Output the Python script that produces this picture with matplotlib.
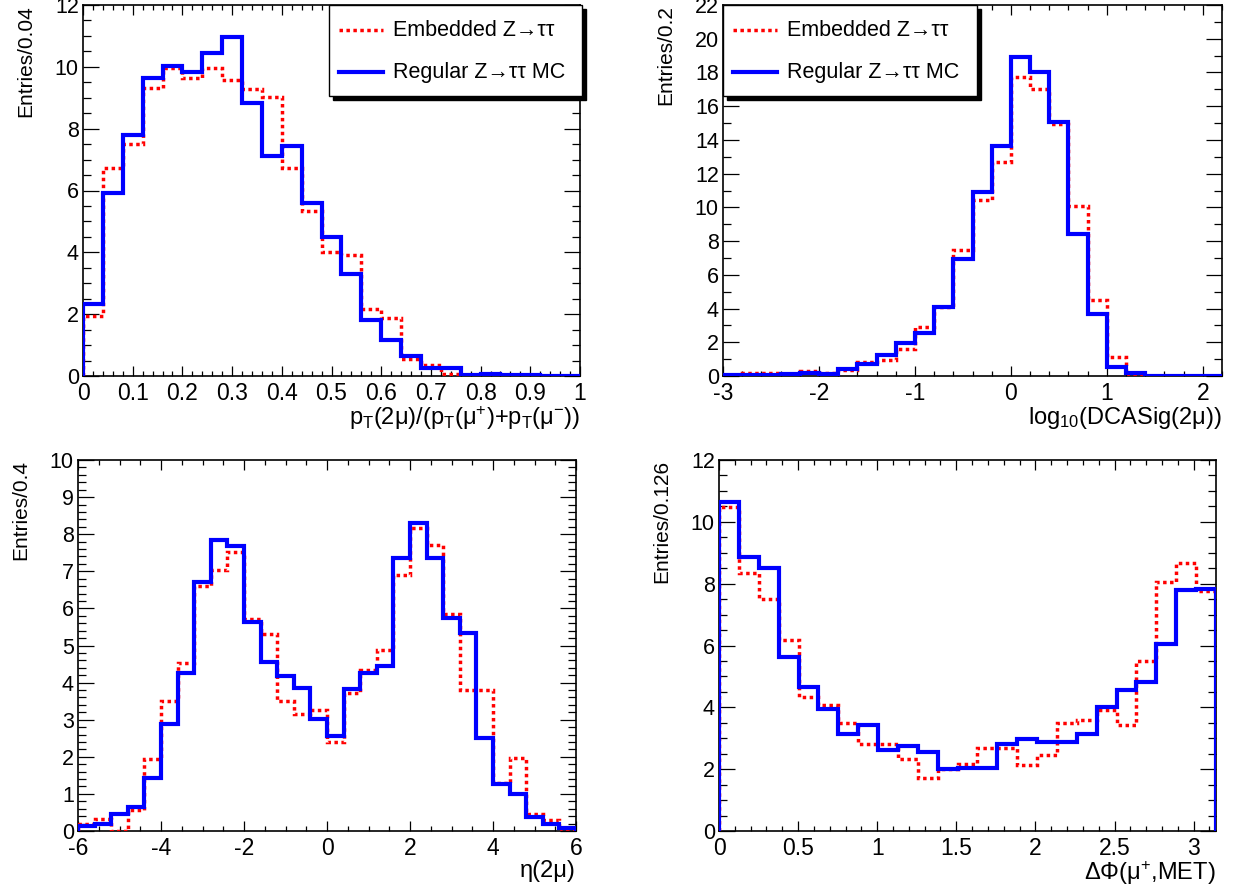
import numpy as np
import matplotlib
matplotlib.use("Agg")
import matplotlib.pyplot as plt
from matplotlib.patches import Rectangle
from matplotlib.ticker import MultipleLocator

plt.rcParams['font.family'] = ['Liberation Sans', 'DejaVu Sans']
plt.rcParams['mathtext.fontset'] = 'custom'
plt.rcParams['mathtext.rm'] = 'Liberation Sans'
plt.rcParams['mathtext.it'] = 'Liberation Sans:italic'
plt.rcParams['axes.unicode_minus'] = False

# ---- data ----
# pT(2mu)/(pT(mu+)+pT(mu-)), 25 bins in [0, 1]
ptfrac_edges = np.linspace(0.0, 1.0, 26)
ptfrac_emb = [1.94, 6.74, 7.49, 9.32, 9.96, 9.63, 9.96, 9.58, 9.29, 9.03, 6.72, 5.34, 4.02,
              3.92, 2.17, 1.88, 0.54, 0.36, 0.06, 0.03, 0.03, 0.02, 0.0, 0.0, 0.0]
ptfrac_mc = [2.33, 5.91, 7.78, 9.65, 10.03, 9.84, 10.46, 10.97, 8.83, 7.10, 7.43, 5.61, 4.48,
             3.30, 1.81, 1.17, 0.65, 0.27, 0.25, 0.03, 0.06, 0.04, 0.02, 0.01, 0.01]

# log10(DCASig(2mu)), 26 bins in [-3, 2.2]
dca_edges = np.linspace(-3.0, 2.2, 27)
dca_emb = [0.02, 0.2, 0.2, 0.1, 0.3, 0.15, 0.38, 0.83, 0.95, 1.62, 2.9, 4.1, 7.45, 10.43,
           12.67, 17.74, 17.01, 14.94, 10.08, 4.5, 1.15, 0.02, 0.0, 0.0, 0.0, 0.0]
dca_mc = [0.05, 0.05, 0.05, 0.1, 0.2, 0.1, 0.4, 0.71, 1.26, 1.98, 2.57, 4.11, 6.92, 10.89,
          13.65, 18.93, 18.04, 15.07, 8.40, 3.67, 0.51, 0.2, 0.02, 0.0, 0.0, 0.0]

# eta(2mu), 30 bins in [-6, 6]
eta_edges = np.linspace(-6.0, 6.0, 31)
eta_emb = [0.18, 0.32, 0.0, 0.56, 1.94, 3.51, 4.52, 6.61, 7.04, 7.52, 5.71, 5.30, 3.51, 3.16,
           3.25, 2.39, 3.72, 4.34, 4.88, 6.91, 8.18, 7.72, 5.85, 3.80, 3.80, 1.30, 1.96, 0.45,
           0.29, 0.0]
eta_mc = [0.13, 0.2, 0.47, 0.65, 1.43, 2.89, 4.25, 6.70, 7.85, 7.69, 5.64, 4.55, 4.19, 3.86,
          3.03, 2.57, 3.84, 4.27, 4.46, 7.35, 8.31, 7.35, 5.74, 5.35, 2.52, 1.27, 0.99, 0.38,
          0.2, 0.07]

# DeltaPhi(mu+, MET), 25 bins in [0, pi]
dphi_edges = np.linspace(0.0, np.pi, 26)
dphi_emb = [10.49, 8.33, 7.49, 6.17, 4.34, 4.07, 3.50, 2.80, 2.83, 2.34, 1.73, 2.0, 2.16,
            2.67, 2.67, 2.13, 2.45, 3.50, 3.58, 3.91, 3.42, 5.50, 8.06, 8.67, 7.77]
dphi_mc = [10.63, 8.87, 8.52, 5.63, 4.66, 3.96, 3.15, 3.44, 2.61, 2.74, 2.56, 1.99, 2.05,
           2.05, 2.83, 2.96, 2.88, 2.88, 3.15, 4.01, 4.55, 4.82, 6.04, 7.81, 7.84]

labels = ['Embedded Z\u2192\u03c4\u03c4', 'Regular Z\u2192\u03c4\u03c4 MC']


def setup(ax, xlim, ylim, xmaj, xmin, ymaj, ymin, xlabel, ylabel):
    ax.set_xlim(*xlim)
    ax.set_ylim(*ylim)
    ax.xaxis.set_major_locator(MultipleLocator(xmaj))
    ax.xaxis.set_minor_locator(MultipleLocator(xmin))
    ax.yaxis.set_major_locator(MultipleLocator(ymaj))
    ax.yaxis.set_minor_locator(MultipleLocator(ymin))
    ax.tick_params(which='both', direction='in', top=True, right=True, width=0.9)
    ax.tick_params(axis='x', which='major', length=7.5, pad=4, labelsize=16.5)
    ax.tick_params(axis='x', which='minor', length=3.8)
    ax.tick_params(axis='y', which='major', length=11.5, pad=3, labelsize=15.5)
    ax.tick_params(axis='y', which='minor', length=5.8)
    for sp in ax.spines.values():
        sp.set_linewidth(1.2)
    ax.set_xlabel(xlabel, loc='right', fontsize=17, labelpad=0)
    ax.set_ylabel(ylabel, loc='top', fontsize=15, labelpad=14)


def draw_hists(ax, edges, emb, mc):
    ax.stairs(emb, edges, color='red', lw=2.5, ls=(0, (1, 1)), zorder=3)
    ax.stairs(mc, edges, color='blue', lw=3.0, zorder=4)


def draw_legend(ax, x0, x1, y0, y1):
    # ROOT style box with a black drop shadow
    w_px = ax.bbox.width
    h_px = ax.bbox.height
    dx, dy = 4 / w_px, 4 / h_px
    ax.add_patch(Rectangle((x0 + dx, y0 - dy), x1 - x0, y1 - y0, transform=ax.transAxes,
                           facecolor='black', edgecolor='black', zorder=9, clip_on=False))
    ax.add_patch(Rectangle((x0, y0), x1 - x0, y1 - y0, transform=ax.transAxes,
                           facecolor='white', edgecolor='black', lw=1.0, zorder=10,
                           clip_on=False))
    rows = [1 - 25 / h_px, 1 - 67 / h_px]
    styles = [dict(color='red', lw=2.5, ls=(0, (1, 1))), dict(color='blue', lw=3.0)]
    for yy, st, lab in zip(rows, styles, labels):
        ax.plot([x0 + 10 / w_px, x0 + 54 / w_px], [yy, yy], transform=ax.transAxes,
                zorder=11, clip_on=False, **st)
        ax.text(x0 + 64 / w_px, yy, lab, transform=ax.transAxes, fontsize=15.5,
                va='center', ha='left', zorder=12)


fig = plt.figure(figsize=(12.35, 8.92), dpi=100)
W, H = 1235.0, 892.0
ax1 = fig.add_axes([83 / W, 1 - 376 / H, 497 / W, 371 / H])
ax2 = fig.add_axes([723 / W, 1 - 376 / H, 499 / W, 371 / H])
ax3 = fig.add_axes([78 / W, 1 - 831 / H, 498 / W, 371 / H])
ax4 = fig.add_axes([719 / W, 1 - 831 / H, 497 / W, 371 / H])

draw_hists(ax1, ptfrac_edges, ptfrac_emb, ptfrac_mc)
setup(ax1, (0, 1), (0, 12), 0.1, 0.02, 2, 0.5,
      r'p$_{\mathrm{T}}$(2μ)/(p$_{\mathrm{T}}$(μ$^{+}$)+p$_{\mathrm{T}}$(μ$^{-}$))', 'Entries/0.04')
ax1.set_xticks(np.arange(0, 1.01, 0.1))
ax1.set_xticklabels(['0', '0.1', '0.2', '0.3', '0.4', '0.5', '0.6', '0.7', '0.8', '0.9', '1'])
draw_legend(ax1, 0.495, 1.004, 0.755, 1.0)

draw_hists(ax2, dca_edges, dca_emb, dca_mc)
setup(ax2, (-3, 2.2), (0, 22), 1, 0.2, 2, 1,
      r'log$_{10}$(DCASig(2μ))', 'Entries/0.2')
draw_legend(ax2, 0.0, 0.509, 0.755, 1.0)

draw_hists(ax3, eta_edges, eta_emb, eta_mc)
setup(ax3, (-6, 6), (0, 10), 2, 0.5, 1, 0.2, 'η(2μ)', 'Entries/0.4')

draw_hists(ax4, dphi_edges, dphi_emb, dphi_mc)
setup(ax4, (0, np.pi), (0, 12), 0.5, 0.1, 2, 0.5,
      r'ΔΦ(μ$^{+}$,MET)', 'Entries/0.126')
ax4.set_xticks([0, 0.5, 1, 1.5, 2, 2.5, 3])
ax4.set_xticklabels(['0', '0.5', '1', '1.5', '2', '2.5', '3'])

fig.savefig('out.png', dpi=100)
